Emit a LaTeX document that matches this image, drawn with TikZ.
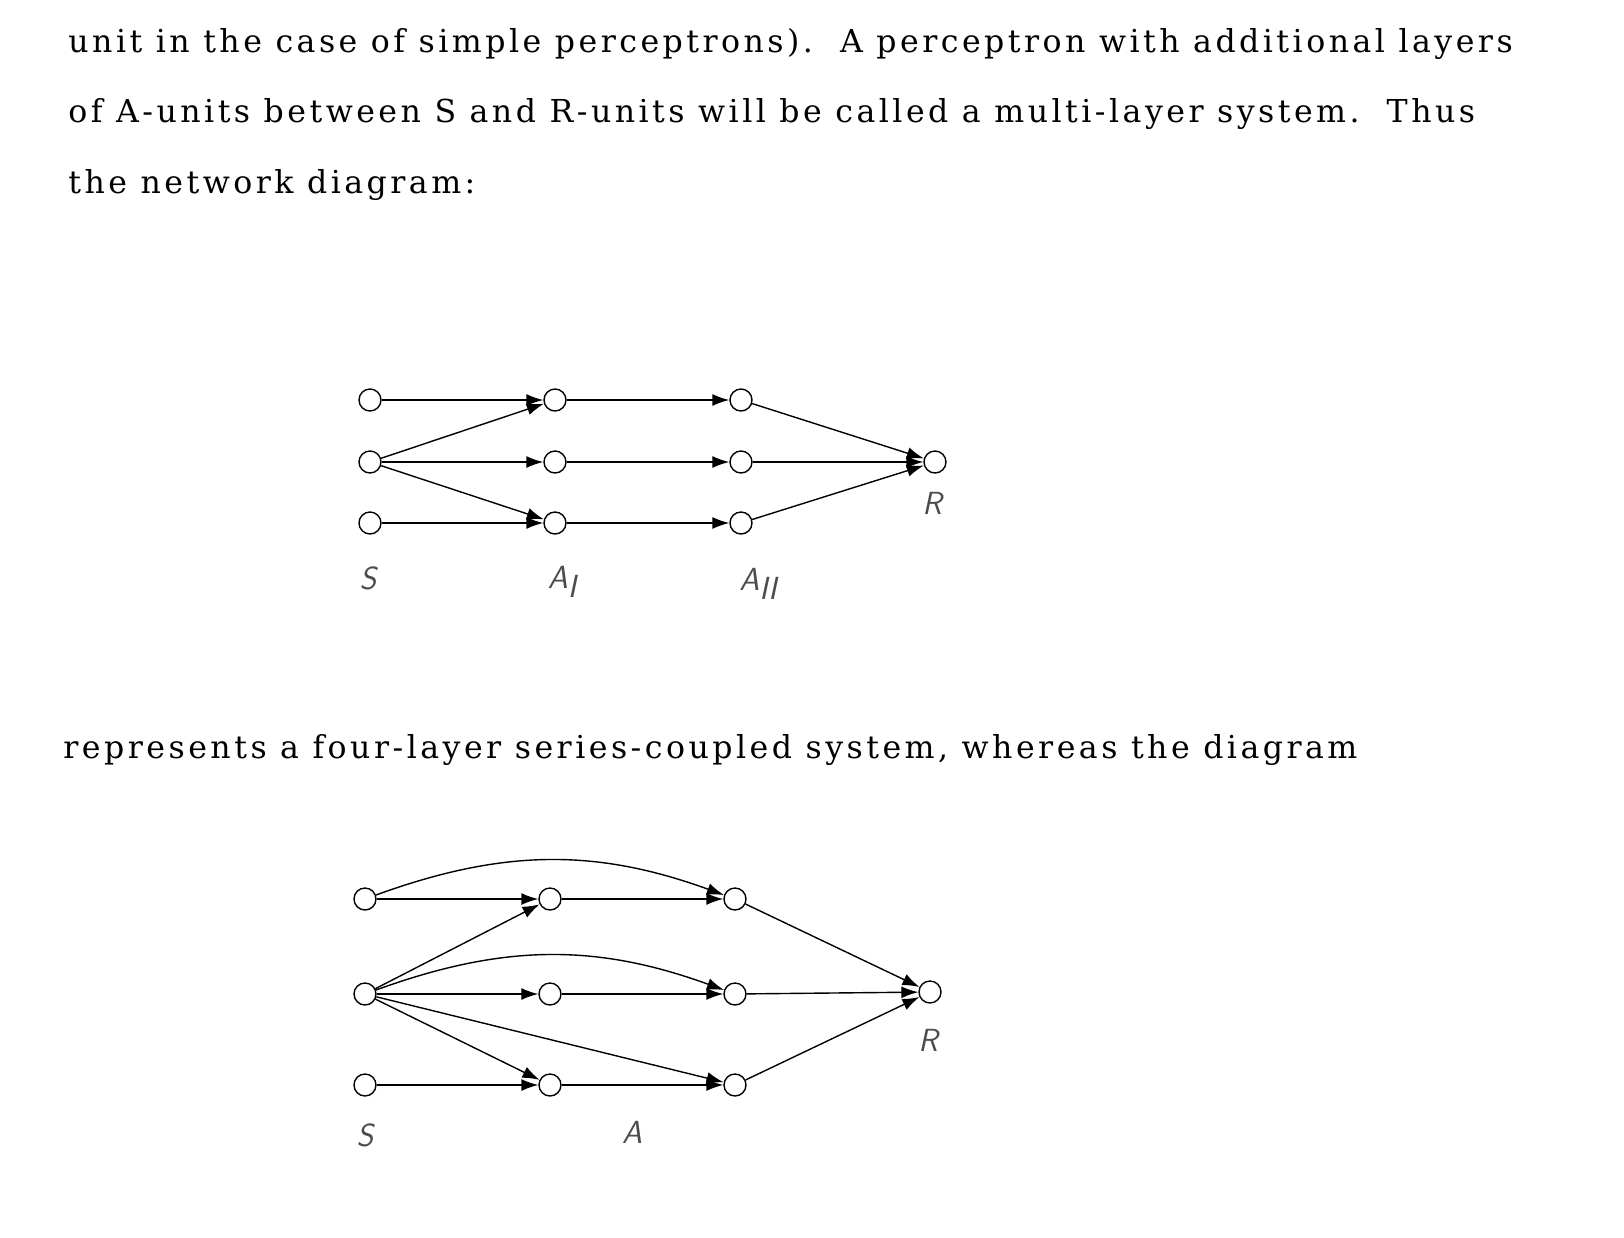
\documentclass[tikz,border=0pt]{standalone}
\usepackage{fontspec}
\usetikzlibrary{arrows.meta,positioning}
\newfontfamily\prosefont{DejaVu Serif}[LetterSpace=11]

\begin{document}
\begin{tikzpicture}[x=0.5pt,y=-0.5pt,
	unit/.style={circle,draw,line width=0.7pt,minimum size=11pt,inner sep=0pt},
	link/.style={line width=0.7pt,-{Latex[length=8.5pt,width=6pt]}},
	prose/.style={font=\prosefont\fontsize{15.8}{20}\selectfont,anchor=base west,inner sep=0pt},
	tag/.style={font=\sffamily\itshape\fontsize{16}{18}\selectfont,text=black!70,inner sep=0pt}]
	\useasboundingbox (0,0) rectangle (1624,1238);
	% running text
	\node[prose] (P-1) at (68,52) {unit in the case of simple perceptrons).\ \ A perceptron with additional layers};
	\node[prose] (P-2) at (68,122) {of A-units between S and R-units will be called a multi-layer system.\ \ Thus};
	\node[prose] (P-3) at (68,193) {the network diagram:};
	\node[prose] (P-4) at (63,758) {represents a four-layer series-coupled system, whereas the diagram};
	% four-layer series-coupled system
	\node[unit] (R-1) at (935,462) {};
	\foreach \Y [count=\i] in {400,462,523}
	{\node[unit] (S-\i) at (370,\Y) {};
		\node[unit] (AI-\i) at (555,\Y) {};
		\node[unit] (AII-\i) at (741,\Y) {};
		\draw[link] (S-\i) -- (AI-\i);
		\draw[link] (AI-\i) -- (AII-\i);
		\draw[link] (AII-\i) -- (R-1);}
	\draw[link] (S-2) -- (AI-1);
	\draw[link] (S-2) -- (AI-3);
	\node[tag] (TS-1) at (368,578) {S};
	\node[tag] (TA-1) at (562,582) {A\raisebox{-0.6ex}{I}};
	\node[tag] (TB-1) at (758,584) {A\raisebox{-0.6ex}{II}};
	\node[tag] (TR-1) at (932,503) {R};
	% system with cross connections
	\node[unit] (R-2) at (930,992) {};
	\foreach \Y [count=\i] in {899,994,1085}
	{\node[unit] (S2-\i) at (365,\Y) {};
		\node[unit] (A2-\i) at (550,\Y) {};
		\node[unit] (C2-\i) at (735,\Y) {};
		\draw[link] (S2-\i) -- (A2-\i);
		\draw[link] (A2-\i) -- (C2-\i);
		\draw[link] (C2-\i) -- (R-2);}
	\draw[link] (S2-1) to[bend left=20] (C2-1);
	\draw[link] (S2-2) to[bend left=20] (C2-2);
	\draw[link] (S2-2) -- (A2-1);
	\draw[link] (S2-2) -- (A2-3);
	\draw[link] (S2-2) -- (C2-3);
	\node[tag] (TS-2) at (365,1135) {S};
	\node[tag] (TA-2) at (632,1132) {A};
	\node[tag] (TR-2) at (928,1040) {R};
\end{tikzpicture}
\end{document}
